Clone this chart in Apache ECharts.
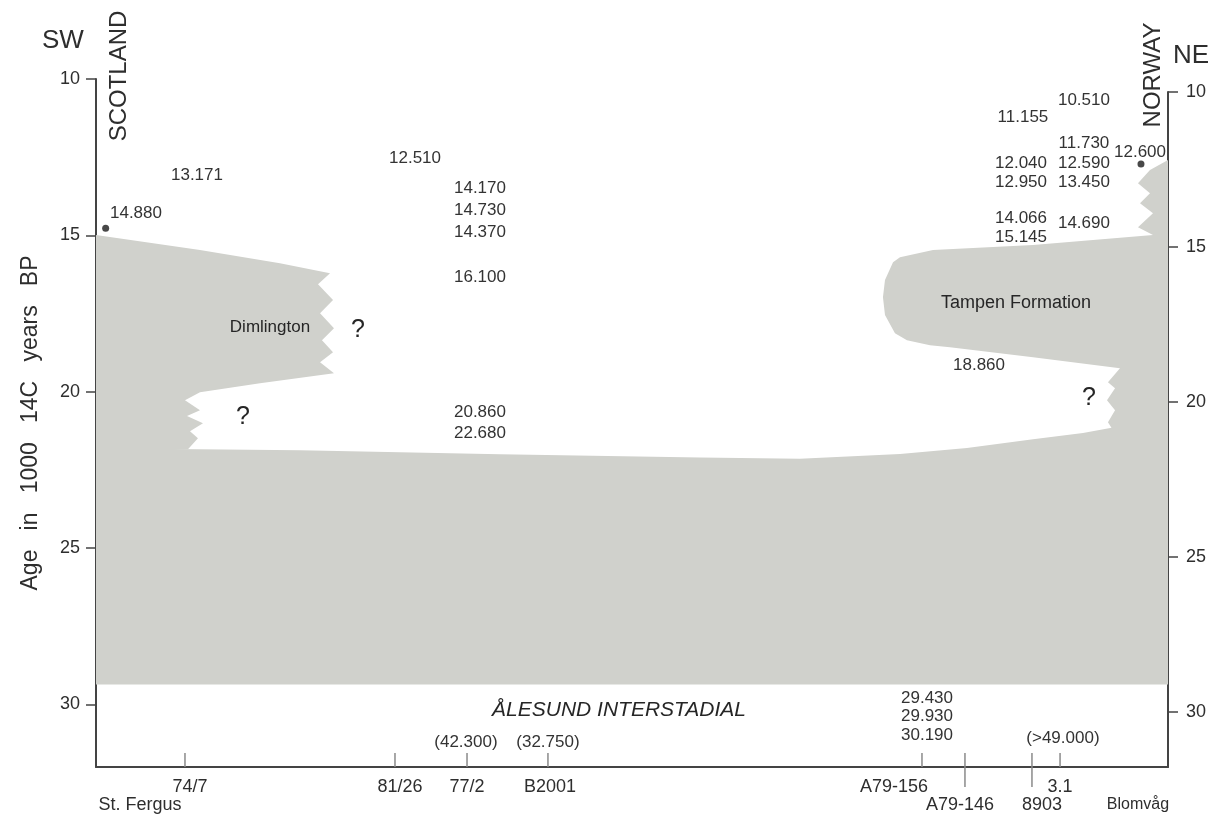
<!DOCTYPE html>
<html><head><meta charset="utf-8">
<script src="https://cdn.jsdelivr.net/npm/echarts@6/dist/echarts.min.js"></script>
<style>html,body{margin:0;padding:0;background:#fff}#c{width:1217px;height:820px}</style>
</head><body><div id="c"></div>
<script>
// ---- axis ticks (age in 1000 14C years BP) ----
const yTicks = [10, 15, 20, 25, 30];

// ---- ice extent outlines: [position along transect (0 = Scotland, 100 = Norway), age] ----
const bandOutline = [[0,21.81],[19.03,21.87],[37.69,22.0],[56.34,22.10],[65.67,22.14],[75.0,21.99],[81.25,21.80],[87.41,21.52],[92.07,21.32],[94.87,21.14],[100,21.14],[100,29.36],[0,29.36]];
const scotlandOutline = [[0,14.99],[9.70,15.47],[17.16,15.89],[21.83,16.21],[20.71,16.56],[22.11,17.07],[20.90,17.49],[22.20,17.97],[21.08,18.35],[22.11,18.74],[20.90,19.06],[22.20,19.41],[15.30,19.73],[9.70,20.02],[8.30,20.27],[9.70,20.59],[8.49,20.78],[9.98,21.01],[8.77,21.26],[9.51,21.49],[8.58,21.84],[0,21.84]];
const norwayOutline = [[100,12.59],[98.32,12.91],[97.20,13.33],[98.32,13.65],[97.39,13.97],[98.60,14.29],[97.20,14.74],[98.60,14.99],[87.41,15.31],[78.08,15.47],[75.0,15.70],[74.35,15.86],[73.60,16.43],[73.41,16.98],[73.60,17.55],[74.53,18.13],[75.65,18.35],[77.8,18.51],[79.66,18.58],[87.41,18.90],[95.52,19.25],[94.40,19.70],[95.06,19.89],[94.31,20.27],[95.06,20.59],[94.40,20.98],[94.87,21.23],[100,21.23]];

// ---- radiocarbon dates ----
const dateText = ['14.880','13.171','12.510','14.170','14.730','14.370','16.100','20.860','22.680','10.510','11.155','11.730','12.600','12.040','12.590','12.950','13.450','14.066','14.690','15.145','18.860','29.430','29.930','30.190','(>49.000)','(42.300)','(32.750)'];
const dateX = [3.73, 9.42, 29.76, 35.82, 35.82, 35.82, 35.82, 35.82, 35.82, 92.16, 86.47, 92.16, 97.39, 86.29, 92.16, 86.29, 92.16, 86.29, 92.16, 86.29, 82.37, 77.52, 77.52, 77.52, 90.2, 34.51, 42.16];
const dateAge = [14.29, 13.07, 12.53, 13.49, 14.19, 14.9, 16.34, 20.66, 21.33, 10.67, 11.22, 12.05, 12.34, 12.69, 12.69, 13.30, 13.30, 14.45, 14.61, 15.06, 19.15, 29.81, 30.38, 30.99, 31.09, 31.22, 31.22];

// ---- annotations ----
const noteText = ['Dimlington', 'Tampen Formation', '?', '?', '?', 'ÅLESUND INTERSTADIAL'];
const noteX = [16.23, 85.82, 24.44, 13.71, 92.63, 48.79];
const noteAge = [17.94, 17.17, 18.03, 20.82, 20.21, 30.19];

// ---- dated points on the coasts ----
const dotX = [0.9, 97.48];
const dotAge = [14.77, 12.72];

// ---- boreholes / sites along the transect ----
const siteNames = ['St. Fergus', '74/7', '81/26', '77/2', 'B2001', 'A79-156', 'A79-146', '8903', '3.1', 'Blomvåg'];
const siteTickX = [null, 8.30, 27.89, 34.61, 42.16, 77.05, 81.06, 87.31, 89.93, null];
const siteLabelX = [4.1, 8.77, 28.36, 34.61, 42.35, 74.44, 80.6, 88.25, 89.93, 97.2];
const siteLabelRow = [2, 1, 1, 1, 1, 1, 2, 2, 1, 2];
const siteLongTick = [false, false, false, false, false, false, true, true, false, false];

const FONT = "'Liberation Sans', Arial, Helvetica, sans-serif";
const TXT = '#2e2e2e';
const ICE = '#d0d1cc';
const Y_MAX = 32;

const chart = echarts.init(document.getElementById('c'), null, {renderer: 'canvas'});
const shapes = [bandOutline, scotlandOutline, norwayOutline];

const option = {
  backgroundColor: '#ffffff',
  animation: false,
  grid: [
    {left: 96, right: 49, top: 79, bottom: 53},
    {left: 96, right: 49, top: 92, bottom: 53}
  ],
  xAxis: [
    {type: 'value', gridIndex: 0, min: 0, max: 100, splitLine: {show: false},
     axisLine: {show: true, onZero: false, lineStyle: {color: '#444', width: 2}},
     axisTick: {show: false}, axisLabel: {show: false}},
    {type: 'value', gridIndex: 1, min: 0, max: 100, show: false}
  ],
  yAxis: [
    {type: 'value', gridIndex: 0, inverse: true, min: 10, max: Y_MAX, interval: 5,
     position: 'left',
     name: 'Age   in   1000   14C   years   BP', nameLocation: 'middle', nameGap: 54,
     nameTextStyle: {fontSize: 23, color: TXT, fontFamily: FONT},
     splitLine: {show: false},
     axisLine: {show: true, onZero: false, lineStyle: {color: '#444', width: 2}},
     axisTick: {show: true, length: 10, customValues: yTicks, lineStyle: {color: '#444', width: 1.5}},
     axisLabel: {customValues: yTicks, margin: 16, fontSize: 18, color: TXT, fontFamily: FONT}},
    {type: 'value', gridIndex: 1, inverse: true, min: 10, max: 31.77, interval: 5,
     position: 'right',
     splitLine: {show: false},
     axisLine: {show: true, onZero: false, lineStyle: {color: '#444', width: 2}},
     axisTick: {show: true, length: 10, customValues: yTicks, lineStyle: {color: '#444', width: 1.5}},
     axisLabel: {customValues: yTicks, margin: 18, fontSize: 18, color: TXT, fontFamily: FONT}}
  ],
  graphic: [
    {type: 'text', left: 42, top: 28, style: {text: 'SW', font: '26px ' + FONT, fill: TXT}},
    {type: 'text', left: 1173, top: 43, style: {text: 'NE', font: '26px ' + FONT, fill: TXT}},
    {type: 'text', x: 119, y: 76, rotation: Math.PI / 2,
     style: {text: 'SCOTLAND', font: '24px ' + FONT, fill: TXT, align: 'center', verticalAlign: 'middle'}},
    {type: 'text', x: 1153, y: 75, rotation: Math.PI / 2,
     style: {text: 'NORWAY', font: '24px ' + FONT, fill: TXT, align: 'center', verticalAlign: 'middle'}}
  ],
  series: [
    {
      type: 'custom', name: 'ice', xAxisIndex: 0, yAxisIndex: 0, silent: true,
      data: shapes.map((s, i) => [i]),
      renderItem: function (params, api) {
        const pts = shapes[params.dataIndex].map(p => api.coord(p));
        return {type: 'polygon', shape: {points: pts}, style: {fill: ICE, stroke: null}};
      },
      z: 1
    },
    {
      type: 'scatter', xAxisIndex: 0, yAxisIndex: 0, silent: true,
      data: dotX.map((x, i) => [x, dotAge[i]]),
      symbolSize: 7, itemStyle: {color: '#1a1a1a'}, z: 5
    },
    {
      type: 'custom', name: 'dates', xAxisIndex: 0, yAxisIndex: 0, silent: true,
      data: dateText.map((t, i) => [dateX[i], dateAge[i]]),
      renderItem: function (params, api) {
        const p = api.coord([api.value(0), api.value(1)]);
        return {type: 'text', x: p[0], y: p[1],
          style: {text: dateText[params.dataIndex], font: '17px ' + FONT, fill: '#333',
                  align: 'center', verticalAlign: 'middle'}};
      },
      z: 6
    },
    {
      type: 'custom', name: 'notes', xAxisIndex: 0, yAxisIndex: 0, silent: true,
      data: noteText.map((t, i) => [noteX[i], noteAge[i]]),
      renderItem: function (params, api) {
        const i = params.dataIndex;
        const p = api.coord([api.value(0), api.value(1)]);
        const t = noteText[i];
        let font = '17px ' + FONT;
        if (t === '?') font = '25px ' + FONT;
        else if (t === 'Tampen Formation') font = '18px ' + FONT;
        else if (i === noteText.length - 1) font = 'italic 21px ' + FONT;
        return {type: 'text', x: p[0], y: p[1],
          style: {text: t, font: font, fill: '#262626', align: 'center', verticalAlign: 'middle'}};
      },
      z: 6
    },
    {
      type: 'custom', name: 'sites', xAxisIndex: 0, yAxisIndex: 0, silent: true,
      data: siteNames.map((n, i) => [siteLabelX[i]]),
      renderItem: function (params, api) {
        const i = params.dataIndex;
        const children = [];
        const base = api.coord([siteLabelX[i], Y_MAX]);
        const rowY = base[1] + (siteLabelRow[i] === 1 ? 20 : 38);
        const name = siteNames[i];
        children.push({type: 'text', x: base[0], y: rowY,
          style: {text: name, font: (name === 'Blomvåg' ? '16px ' : '18px ') + FONT, fill: TXT,
                  align: 'center', verticalAlign: 'middle'}});
        if (siteTickX[i] !== null) {
          const t = api.coord([siteTickX[i], Y_MAX]);
          const y1 = t[1] - 14, y2 = siteLongTick[i] ? t[1] + 20 : t[1];
          children.push({type: 'line', shape: {x1: t[0], y1: y1, x2: t[0], y2: y2},
            style: {stroke: '#8a8a8a', lineWidth: 1.5}});
        }
        return {type: 'group', children: children};
      },
      z: 6
    }
  ]
};
chart.setOption(option);
</script>
</body></html>
